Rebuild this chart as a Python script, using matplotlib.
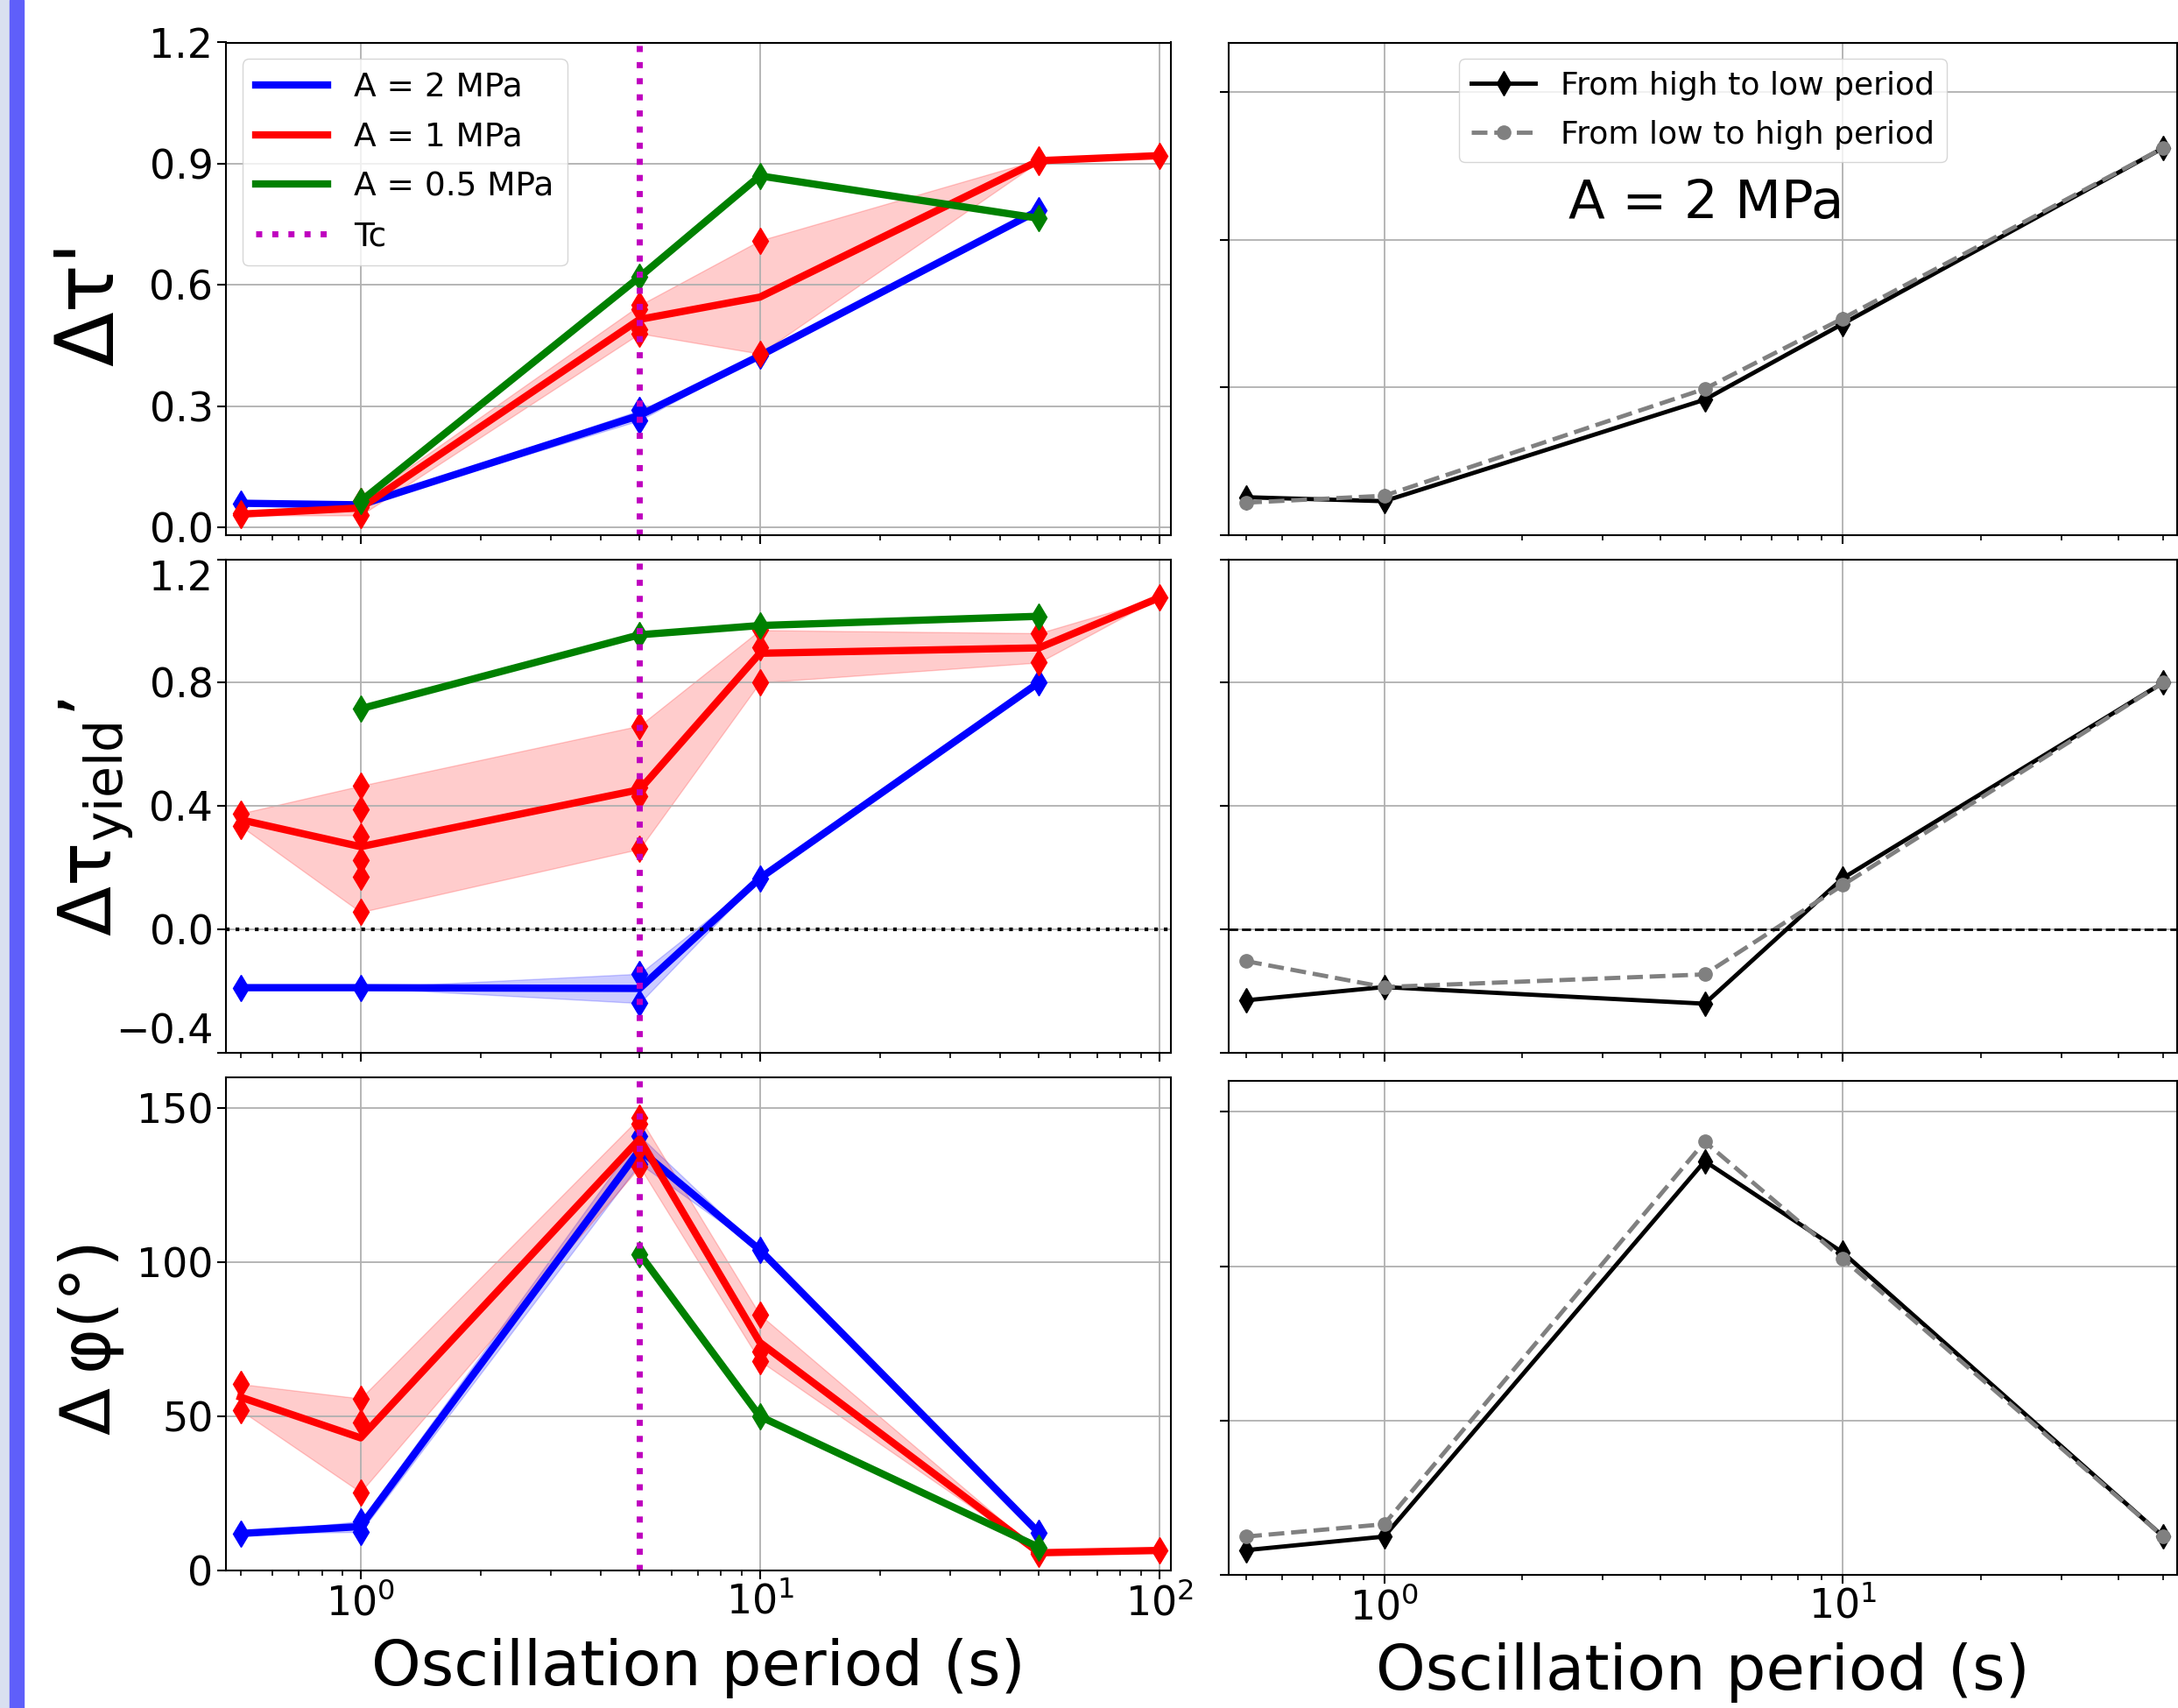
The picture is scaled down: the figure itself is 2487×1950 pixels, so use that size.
import matplotlib
matplotlib.use("Agg")
from matplotlib import pyplot as plt
from matplotlib.patches import Rectangle
import numpy as np

# periods (s) for each series
x_2mpa = [0.5, 1, 5, 10, 50]
x_1mpa = [0.5, 1, 5, 10, 50, 100]
x_05mpa_tau = [1, 5, 10, 50]
x_05mpa_phi = [5, 10, 50]

# individual runs at each period, left column
tau_2mpa = [[0.06], [0.056], [0.29, 0.265], [0.425], [0.785]]
tau_1mpa = [[0.03, 0.036], [0.03, 0.065, 0.05], [0.55, 0.54, 0.49, 0.48],
            [0.71, 0.43], [0.905, 0.91], [0.92]]
tau_05mpa = [[0.065], [0.62], [0.87], [0.765]]

yield_2mpa = [[-0.19], [-0.19], [-0.145, -0.24], [0.165], [0.80]]
yield_1mpa = [[0.375, 0.335], [0.465, 0.39, 0.30, 0.225, 0.17, 0.055],
              [0.66, 0.46, 0.43, 0.26], [0.97, 0.915, 0.80], [0.96, 0.865], [1.075]]
yield_05mpa = [[0.715], [0.955], [0.985], [1.015]]

phi_2mpa = [[12.0], [16.0, 12.5], [141.0, 132.0], [104.0], [12.2]]
phi_1mpa = [[60.5, 52.0], [55.8, 47.9, 25.4], [147.0, 145.0, 137.0, 131.0],
            [83.0, 71.0, 68.0], [5.5, 6.0], [6.5]]
phi_05mpa = [[102.7], [50.0], [7.5]]

# right column, A = 2 MPa, both sweep directions
x_right = [0.5, 1, 5, 10, 50]
tau_down = [0.077, 0.069, 0.275, 0.429, 0.786]
tau_up = [0.066, 0.080, 0.297, 0.44, 0.786]
yield_down = [-0.231, -0.188, -0.242, 0.165, 0.80]
yield_up = [-0.104, -0.188, -0.147, 0.143, 0.80]
phi_down = [8.0, 12.4, 134.0, 104.4, 12.4]
phi_up = [12.4, 16.4, 140.3, 102.4, 12.4]

T_c = 5

W, H = 2487, 1950
fig = plt.figure(figsize=(W / 100, H / 100), dpi=100)

# blue strip on the left edge
fig.patches.append(Rectangle((0, 0), 11 / W, 1, transform=fig.transFigure,
                             color="#d9e0f0", zorder=-5))
fig.patches.append(Rectangle((11 / W, 0), 16 / W, 1, transform=fig.transFigure,
                             color="#5f5ffa", zorder=-5))


def box(x0, x1, y0, y1):
    return [x0 / W, 1 - y1 / H, (x1 - x0) / W, (y1 - y0) / H]


rows = [(48.5, 611), (638.5, 1201.5), (1230, 1793)]
left = [fig.add_axes(box(258, 1337, *r)) for r in rows]
right = [fig.add_axes(box(1403, 2486, *rows[0])),
         fig.add_axes(box(1403, 2486, *rows[1])),
         fig.add_axes(box(1403, 2486, 1234, 1798))]


def draw_series(ax, x, runs, color, label):
    lo = [min(r) for r in runs]
    hi = [max(r) for r in runs]
    mean = [np.mean(r) for r in runs]
    ax.fill_between(x, lo, hi, color=color, alpha=0.2)
    for xi, r in zip(x, runs):
        ax.plot([xi] * len(r), r, "d", color=color, ms=15, ls="none")
    ax.plot(x, mean, color=color, lw=6, label=label)


for ax in left + right:
    ax.set_xscale("log")
    ax.grid(True, which="major", color="#b0b0b0", lw=1.3)
    ax.tick_params(which="major", labelsize=33, length=7, width=1.5)
    ax.tick_params(which="minor", length=4, width=1.2)
    for s in ax.spines.values():
        s.set_linewidth(1.5)

for ax in left:
    ax.set_xlim(0.46, 107)
for ax in right:
    ax.set_xlim(0.458, 53.6)
    ax.tick_params(axis="y", labelleft=False)

data = [(tau_2mpa, tau_1mpa, tau_05mpa, x_05mpa_tau),
        (yield_2mpa, yield_1mpa, yield_05mpa, x_05mpa_tau),
        (phi_2mpa, phi_1mpa, phi_05mpa, x_05mpa_phi)]
for ax, (b, r, g, xg) in zip(left, data):
    draw_series(ax, x_2mpa, b, "b", "A = 2 MPa")
    draw_series(ax, x_1mpa, r, "r", "A = 1 MPa")
    draw_series(ax, xg, g, "g", "A = 0.5 MPa")

left[1].axhline(0, color="k", ls=":", lw=3)
for ax in left:
    ax.axvline(T_c, color="m", ls=":", lw=5, label="Tc")

left[0].set_ylim(-0.019, 1.2)
left[0].set_yticks([0, 0.3, 0.6, 0.9, 1.2])
left[1].set_ylim(-0.4, 1.2)
left[1].set_yticks([-0.4, 0, 0.4, 0.8, 1.2])
left[2].set_ylim(0, 160)
left[2].set_yticks([0, 50, 100, 150])
labs = left[1].get_yticklabels()
labs[0].set_va("bottom")
labs[-1].set_va("top")

left[0].legend(loc="upper left", fontsize=27, handlelength=2.2,
               labelspacing=0.55)

# right column
ys = [(tau_down, tau_up), (yield_down, yield_up), (phi_down, phi_up)]
for ax, (d, u) in zip(right, ys):
    ax.plot(x_right, d, color="k", lw=3.5, marker="d", ms=14,
            label="From high to low period")
    ax.plot(x_right, u, color="gray", lw=3.5, ls="--", marker="o", ms=11,
            label="From low to high period")
right[1].axhline(0, color="k", ls="--", lw=2)
right[0].set_ylim(0, 1.0)
right[0].set_yticks([0, 0.3, 0.6, 0.9])
right[1].set_ylim(-0.4, 1.2)
right[1].set_yticks([-0.4, 0, 0.4, 0.8, 1.2])
right[2].set_ylim(0, 160)
right[2].set_yticks([0, 50, 100, 150])
right[0].legend(loc="upper center", fontsize=26, labelspacing=0.6)
right[0].text(0.503, 0.672, "A = 2 MPa", transform=right[0].transAxes,
              ha="center", va="center", fontsize=44)

for ax in left[:2] + right[:2]:
    ax.tick_params(axis="x", which="both", labelbottom=False)
for ax in (left[2], right[2]):
    ax.set_xlabel("Oscillation period (s)", fontsize=52, labelpad=12)

ylabels = [("Δτ'", 66, -0.1437, 0.471),
           ("Δτ$_{\\mathrm{yield}}$’", 60, -0.138, 0.477),
           ("Δ\u2009φ(°)", 57, -0.1427, 0.4725)]
for ax, (txt, fs, lx, ly) in zip(left, ylabels):
    ax.set_ylabel(txt, fontsize=fs, ha="center", va="center")
    ax.yaxis.set_label_coords(lx, ly)

fig.savefig("out.png", dpi=100)
